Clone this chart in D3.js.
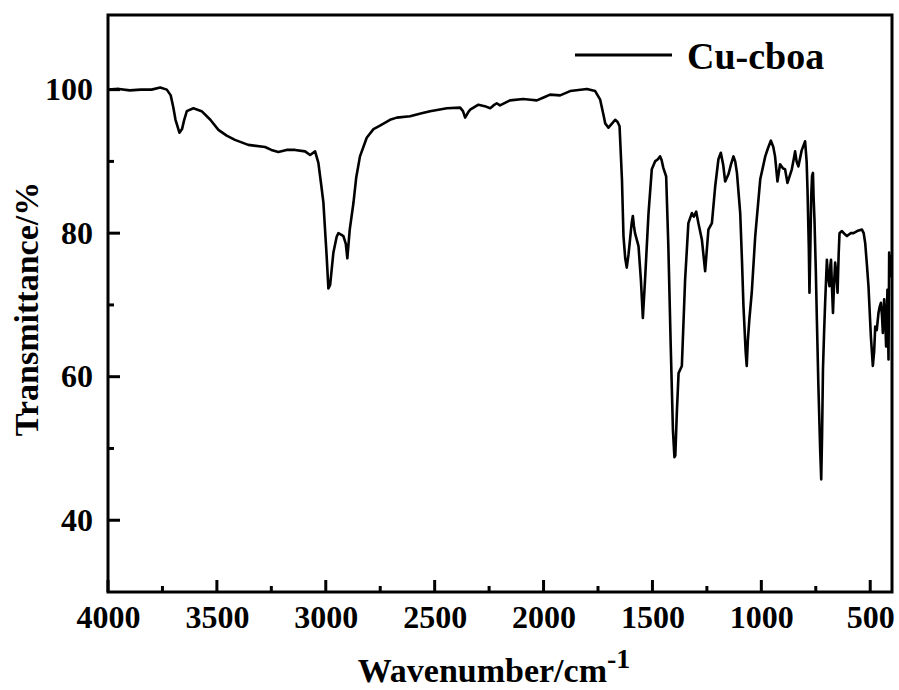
<!DOCTYPE html>
<html>
<head>
<meta charset="utf-8">
<script src="https://cdn.jsdelivr.net/npm/d3@7"></script>
<style>
  body { margin: 0; background: #fff; }
  svg text { font-family: "Liberation Serif", "Times New Roman", serif; font-weight: bold; fill: #000; }
  .axis path { display: none; }
</style>
</head>
<body>
<div id="chart"></div>
<script>
// FTIR spectrum, Cu-cboa

const seriesName = "Cu-cboa"

// wavenumber (cm-1)
const wavenumber = [4000, 3950, 3900, 3850, 3800, 3760, 3730, 3712, 3700, 3690, 3672, 3660, 3650, 3638, 3608, 3570, 3530, 3493, 3455, 3417,
  3356, 3279, 3250, 3218, 3180, 3141, 3095, 3072, 3049, 3034, 3020, 3011, 2996, 2988, 2980, 2965, 2950, 2942, 2930, 2919,
  2908, 2901, 2890, 2873, 2860, 2843, 2812, 2781, 2751, 2705, 2674, 2613, 2560, 2521, 2444, 2383, 2370, 2360, 2345, 2337,
  2299, 2270, 2245, 2230, 2215, 2200, 2154, 2093, 2060, 2031, 2000, 1970, 1924, 1878, 1801, 1763, 1740, 1725, 1717, 1702,
  1685, 1671, 1660, 1651, 1640, 1633, 1625, 1618, 1610, 1603, 1595, 1590, 1585, 1580, 1564, 1553, 1544, 1534, 1518, 1503,
  1488, 1475, 1465, 1458, 1450, 1437, 1427, 1416, 1406, 1399, 1395, 1388, 1380, 1365, 1350, 1335, 1319, 1310, 1299, 1289,
  1273, 1258, 1243, 1227, 1212, 1197, 1186, 1175, 1166, 1151, 1140, 1128, 1120, 1112, 1097, 1089, 1082, 1072, 1067, 1062,
  1055, 1044, 1028, 1005, 982, 970, 956, 945, 937, 926, 914, 900, 891, 880, 860, 850, 845, 838, 830, 815,
  799, 792, 788, 782, 779, 775, 771, 767, 763, 760, 756, 750, 745, 738, 730, 725, 721, 717, 712, 707,
  699, 694, 687, 683, 680, 675, 671, 666, 661, 656, 650, 645, 641, 630, 615, 607, 590, 577, 560, 538,
  530, 523, 515, 508, 497, 488, 482, 477, 470, 462, 456, 451, 446, 442, 436, 431, 427, 421, 416, 413,
  408, 403]

// transmittance (%)
const transmittance = [100.0, 100.1, 99.9, 100.0, 100.0, 100.3, 100.0, 99.2, 97.5, 95.8, 94.0, 94.5, 95.8, 97.0, 97.4, 97.0, 95.8, 94.4, 93.6, 93.0,
  92.3, 92.0, 91.6, 91.3, 91.6, 91.6, 91.4, 90.9, 91.4, 89.8, 86.5, 84.3, 76.8, 72.3, 72.8, 77.3, 79.5, 80.0, 79.8, 79.6,
  78.5, 76.5, 80.5, 84.2, 87.8, 90.7, 93.3, 94.5, 95.0, 95.8, 96.1, 96.3, 96.7, 97.0, 97.4, 97.5, 97.0, 96.1, 96.9, 97.2,
  97.9, 97.7, 97.4, 97.8, 98.1, 97.8, 98.5, 98.7, 98.6, 98.5, 98.9, 99.3, 99.2, 99.8, 100.1, 99.8, 98.6, 96.5, 95.3, 94.7,
  95.3, 95.8, 95.5, 94.9, 87.5, 79.6, 76.5, 75.2, 77.0, 79.1, 81.5, 82.4, 81.0, 80.0, 78.2, 73.5, 68.2, 73.5, 82.8, 88.9,
  90.0, 90.3, 90.7, 90.2, 89.1, 87.9, 78.2, 64.2, 52.6, 48.8, 49.0, 55.0, 60.5, 61.5, 73.5, 81.4, 82.8, 82.3, 83.0, 81.4,
  79.1, 74.7, 80.5, 81.4, 86.5, 90.3, 91.2, 89.5, 87.2, 88.2, 89.5, 90.7, 90.0, 88.4, 82.8, 76.3, 69.8, 63.5, 61.5, 65.0,
  68.0, 71.7, 79.6, 87.5, 90.7, 91.8, 92.9, 92.0, 90.7, 87.2, 89.6, 89.0, 88.9, 87.0, 88.9, 90.5, 91.4, 90.0, 89.3, 91.5,
  92.8, 90.0, 86.1, 78.0, 71.7, 78.0, 85.1, 88.0, 88.4, 85.0, 81.9, 75.0, 68.0, 58.7, 50.0, 45.7, 52.0, 61.0, 66.0, 70.3,
  76.3, 74.0, 72.6, 75.5, 76.3, 72.0, 68.9, 73.0, 75.9, 74.5, 71.7, 77.0, 80.0, 80.3, 79.8, 79.6, 80.0, 80.0, 80.3, 80.5,
  80.0, 78.6, 75.5, 72.6, 65.6, 61.5, 63.5, 67.0, 66.5, 68.9, 69.8, 70.3, 68.5, 66.1, 70.8, 68.0, 64.2, 72.1, 62.4, 77.3,
  74.0, 77.0]

const xMajor = [4000, 3500, 3000, 2500, 2000, 1500, 1000, 500]
const xMinor = [3750, 3250, 2750, 2250, 1750, 1250, 750]
const yMajor = [40, 60, 80, 100]
const yMinor = [50, 70, 90]

const width = 899
const height = 690
const margin = { top: 15, right: 7, bottom: 98, left: 108 }
const innerW = width - margin.left - margin.right
const innerH = height - margin.top - margin.bottom

const svg = d3.select("div#chart").append("svg").attr("width", width).attr("height", height)
const g = svg.append("g").attr("transform", `translate(${margin.left}, ${margin.top})`)

const x = d3.scaleLinear().domain([4000, 400]).range([0, innerW])
const y = d3.scaleLinear().domain([30, 110.4]).range([innerH, 0])

// axis labels via d3 axes (tick lines drawn below so they point inward)
const fmt = d3.format("d")
const xAxis = d3.axisBottom(x).tickValues(xMajor).tickFormat(fmt).tickSize(0).tickPadding(13)
const yAxis = d3.axisLeft(y).tickValues(yMajor).tickFormat(fmt).tickSize(0).tickPadding(15)

g.append("g").attr("class", "axis").attr("transform", `translate(0, ${innerH})`).call(xAxis)
  .selectAll("text").style("font-size", "32px")
g.append("g").attr("class", "axis").call(yAxis)
  .selectAll("text").style("font-size", "32px")

// inward ticks
const ticks = g.append("g").attr("stroke", "#000").attr("stroke-width", 3)
ticks.selectAll("line.xt")
  .data(xMajor.map(v => ({ v: v, len: 12 })).concat(xMinor.map(v => ({ v: v, len: 6 }))))
  .join("line").attr("class", "xt")
  .attr("x1", d => x(d.v)).attr("x2", d => x(d.v))
  .attr("y1", innerH).attr("y2", d => innerH - d.len)
ticks.selectAll("line.yt")
  .data(yMajor.map(v => ({ v: v, len: 12 })).concat(yMinor.map(v => ({ v: v, len: 6 }))))
  .join("line").attr("class", "yt")
  .attr("x1", 0).attr("x2", d => d.len)
  .attr("y1", d => y(d.v)).attr("y2", d => y(d.v))

// spectrum
const data = wavenumber.map((w, i) => ({ w: w, t: transmittance[i] }))
const line = d3.line().x(d => x(d.w)).y(d => y(d.t))

g.append("clipPath").attr("id", "clip").append("rect").attr("width", innerW).attr("height", innerH)
g.append("path")
  .datum(data)
  .attr("clip-path", "url(#clip)")
  .attr("fill", "none")
  .attr("stroke", "#000")
  .attr("stroke-width", 2.6)
  .attr("stroke-linejoin", "round")
  .attr("d", line)

// frame
g.append("rect").attr("width", innerW).attr("height", innerH)
  .attr("fill", "none").attr("stroke", "#000").attr("stroke-width", 3)

// legend
const legend = svg.append("g").attr("transform", "translate(575, 55)")
legend.append("line").attr("x1", 0).attr("x2", 97).attr("y1", 0).attr("y2", 0)
  .attr("stroke", "#000").attr("stroke-width", 2.8)
legend.append("text").attr("x", 112).attr("y", 14).style("font-size", "38px").text(seriesName)

// axis titles
const xTitle = svg.append("text")
  .attr("x", 494).attr("y", 682)
  .attr("text-anchor", "middle")
  .style("font-size", "34px")
xTitle.append("tspan").text("Wavenumber/cm")
xTitle.append("tspan").attr("dy", -14).style("font-size", "28px").text("-1")

svg.append("text")
  .attr("transform", "translate(38, 309) rotate(-90)")
  .attr("text-anchor", "middle")
  .style("font-size", "34px")
  .text("Transmittance/%")
</script>
</body>
</html>
